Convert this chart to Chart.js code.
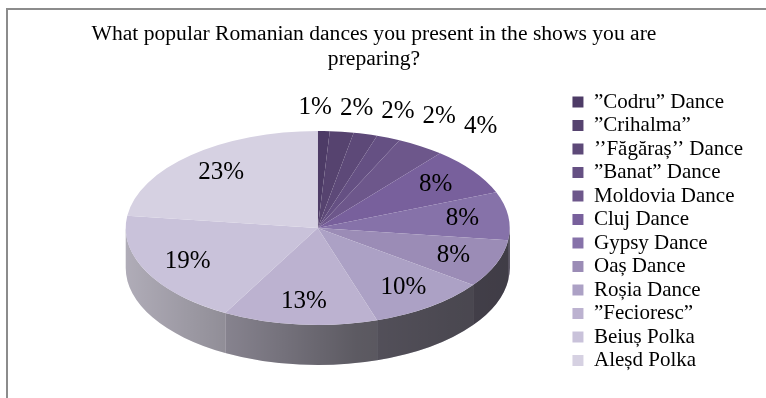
<!DOCTYPE html>
<html>
<head>
<meta charset="utf-8">
<script src="https://cdn.jsdelivr.net/npm/chart.js@4/dist/chart.umd.min.js"></script>
<style>
  html, body { margin: 0; padding: 0; background: #fff; overflow: hidden; width: 766px; height: 398px; }
  #frame { position: absolute; left: 6px; top: 8px; width: 820px; height: 450px;
           border-left: 2px solid #8c8c8c; border-top: 2px solid #8c8c8c; }
  #c { position: absolute; left: 0; top: 0; }
  #title { position: absolute; left: 0; top: 21px; width: 748px; text-align: center;
           font: 21.6px/25px 'Liberation Serif', serif; color: #000; }
</style>
</head>
<body>
<div id="frame"></div>
<canvas id="c" width="766" height="420"></canvas>
<div id="title">What popular Romanian dances you present in the shows you are<br>preparing?</div>
<script>
// Dances named in the survey, in pie order (clockwise from 12 o'clock)
const dances = [
  '”Codru” Dance', '”Crihalma”', '’’Făgăraș’’ Dance', '”Banat” Dance',
  'Moldovia Dance', 'Cluj Dance', 'Gypsy Dance', 'Oaș Dance',
  'Roșia Dance', '”Fecioresc”', 'Beiuș Polka', 'Aleșd Polka'
];
// Share of answers, in percent
const shares = [1, 2, 2, 2, 4, 8, 8, 8, 10, 13, 19, 23];
// Purple ramp, dark to light
const sliceColors = [
  '#4d3b66', '#56436f', '#5d4978', '#655083', '#6d578b', '#78609c',
  '#8672a9', '#9b8cb6', '#aca1c5', '#bcb2d0', '#c9c2da', '#d6d1e2'
];

const SERIF = "'Liberation Serif', 'Times New Roman', serif";

function hexToRgb(h) {
  const n = parseInt(h.slice(1), 16);
  return [(n >> 16) & 255, (n >> 8) & 255, n & 255];
}

// Tilted pie with an extruded rim; percent labels on top
const pie3d = {
  id: 'pie3d',
  beforeDatasetsDraw(chart, args, o) {
    const arcs = chart.getDatasetMeta(0).data;
    if (!arcs.length) return;
    const { ctx, chartArea } = chart;
    const px = arcs[0].x, py = arcs[0].y, R = arcs[0].outerRadius;
    const rx = R, ry = R * o.tilt, depth = o.depth;
    const cx = px;
    const cy = (chartArea.top + chartArea.bottom) / 2 - depth / 2;
    chart.$pie3d = { cx, cy, rx, ry, depth };

    // rim: front half of every slice, shaded darker towards the right
    const shade = ctx.createLinearGradient(cx - rx, 0, cx + rx, 0);
    o.shade.forEach(([t, a]) => shade.addColorStop(t, `rgba(0,0,0,${a})`));
    const colors = chart.data.datasets[0].backgroundColor;
    arcs.forEach((arc, i) => {
      const a = Math.max(arc.startAngle, 0), b = Math.min(arc.endAngle, Math.PI);
      if (b <= a) return;
      const [r, g, bl] = hexToRgb(colors[i]);
      const l = 0.3 * r + 0.59 * g + 0.11 * bl, m = o.desaturate;
      ctx.beginPath();
      ctx.ellipse(cx, cy, rx, ry, 0, a, b, false);
      ctx.ellipse(cx, cy + depth, rx, ry, 0, b, a, true);
      ctx.closePath();
      ctx.fillStyle = `rgb(${r + (l - r) * m},${g + (l - g) * m},${bl + (l - bl) * m})`;
      ctx.fill();
      ctx.fillStyle = shade;
      ctx.fill();
    });

    // squash the round pie into the top ellipse
    ctx.save();
    ctx.translate(cx, cy);
    ctx.scale(1, ry / rx);
    ctx.translate(-px, -py);
  },
  afterDatasetsDraw(chart, args, o) {
    const g = chart.$pie3d;
    if (!g) return;
    const { ctx } = chart;
    ctx.restore();

    const arcs = chart.getDatasetMeta(0).data;
    const vals = chart.data.datasets[0].data;
    ctx.save();
    ctx.font = `${o.labelSize}px ${SERIF}`;
    ctx.fillStyle = '#000';
    ctx.textAlign = 'center';
    ctx.textBaseline = 'middle';
    let prevRight = -Infinity;
    arcs.forEach((arc, i) => {
      const mid = (arc.startAngle + arc.endAngle) / 2;
      const text = vals[i] + '%';
      const w = ctx.measureText(text).width;
      let x, y;
      if (vals[i] >= o.insideMin) {
        x = g.cx + g.rx * o.inner * Math.cos(mid);
        y = g.cy + g.ry * o.inner * Math.sin(mid);
      } else {
        // small slices: labels outside, pushed apart so they do not overlap
        x = g.cx + g.rx * o.outerX * Math.cos(mid) + o.outerShift;
        y = g.cy + g.ry * o.outerY * Math.sin(mid);
        x = Math.max(x, prevRight + o.gap + w / 2);
        prevRight = x + w / 2;
      }
      ctx.fillText(text, x, y);
    });
    ctx.restore();
  }
};

new Chart(document.getElementById('c'), {
  type: 'pie',
  data: {
    labels: dances,
    datasets: [{
      data: shares,
      backgroundColor: sliceColors,
      borderWidth: 0,
      clip: false
    }]
  },
  options: {
    responsive: false,
    devicePixelRatio: 1,
    animation: false,
    radius: 192,
    layout: { padding: { left: 65.5, right: 13, top: 89, bottom: 13 } },
    plugins: {
      title: { display: false },
      tooltip: { enabled: false },
      legend: {
        position: 'right',
        align: 'start',
        labels: {
          font: { family: SERIF, size: 21 },
          color: '#000',
          boxWidth: 11,
          boxHeight: 11,
          padding: 2.5
        }
      },
      pie3d: {
        tilt: 0.505,
        depth: 40,
        desaturate: 0.45,
        shade: [[0, 0.12], [0.3, 0.3], [0.6, 0.5], [0.85, 0.56], [1, 0.58]],
        labelSize: 25,
        insideMin: 5,
        inner: 0.76,
        outerX: 1.25,
        outerY: 1.24,
        outerShift: -10,
        gap: 8
      }
    }
  },
  plugins: [pie3d]
});
</script>
</body>
</html>
